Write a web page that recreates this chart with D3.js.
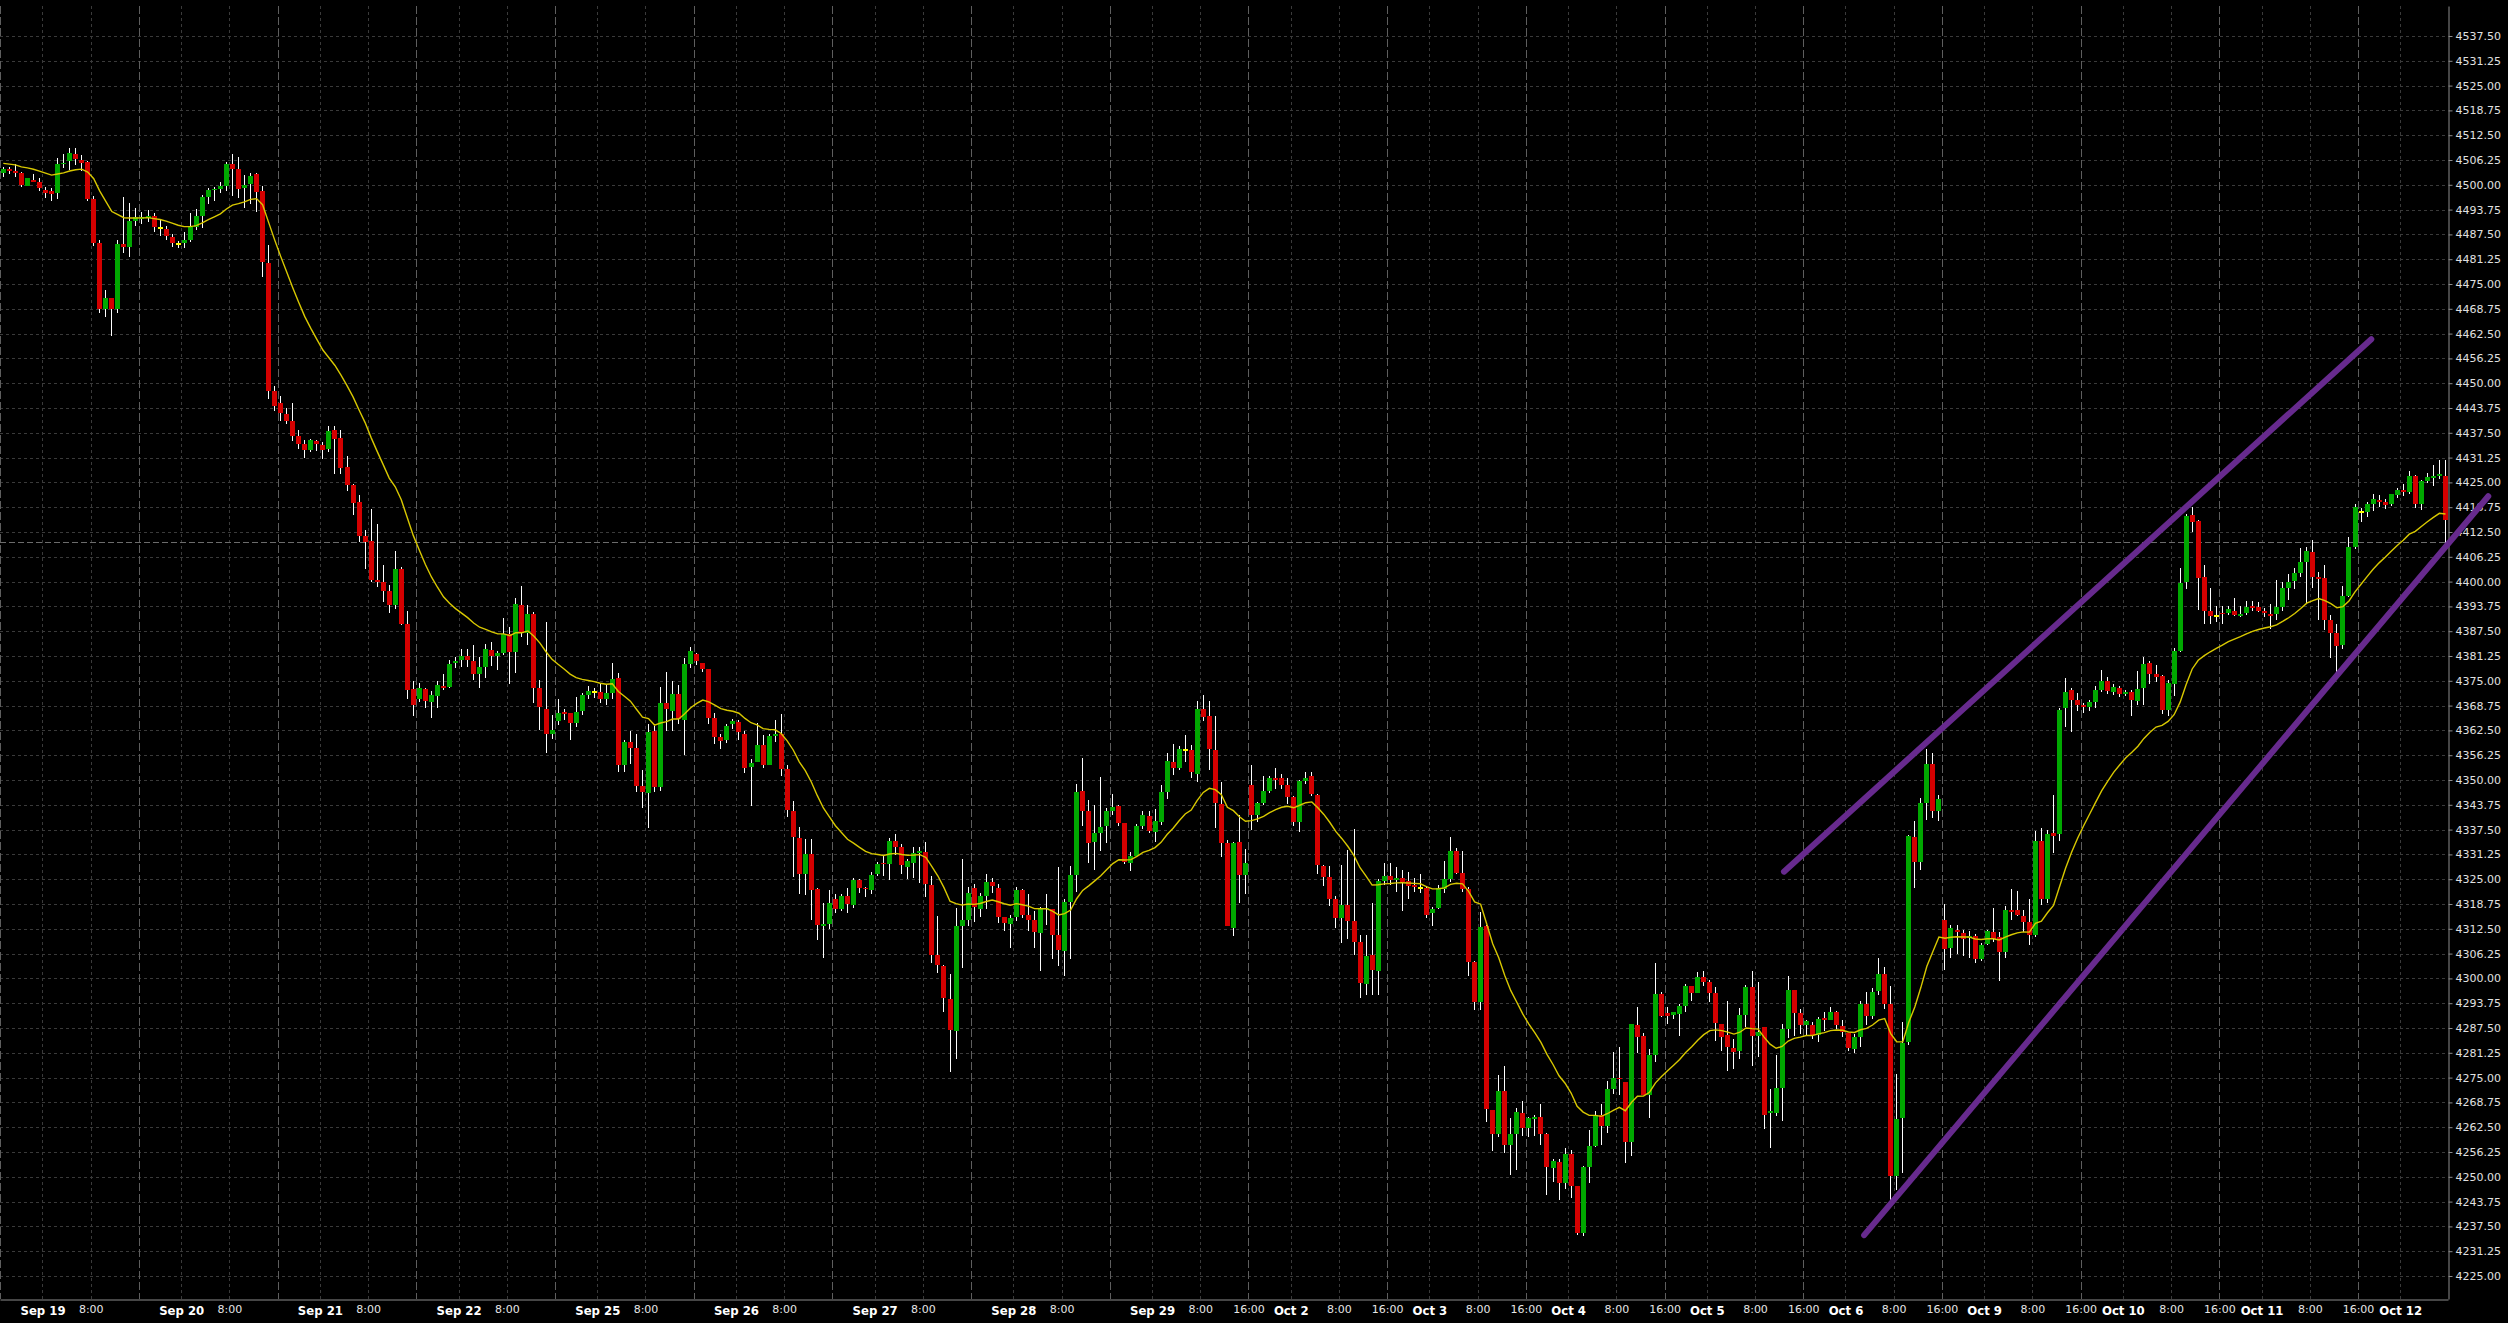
<!DOCTYPE html>
<html><head><meta charset="utf-8">
<script src="https://cdn.jsdelivr.net/npm/d3@7"></script>
<style>html,body{margin:0;padding:0;background:#000;overflow:hidden}</style>
</head><body>
<svg id="c" width="2508" height="1323"></svg>
<script>
// ---------- DATA (hourly bars) ----------
const dayLabels = ["Sep 19","Sep 20","Sep 21","Sep 22","Sep 25","Sep 26","Sep 27","Sep 28","Sep 29",
  "Oct 2","Oct 3","Oct 4","Oct 5","Oct 6","Oct 9","Oct 10","Oct 11","Oct 12"];
const firstBarHour = 16;      // first visible bar = previous day 16:00
const barsPerDay = 23;        // hours 0..22
const sixteenLabelFrom = "Sep 29";

const opens = [
4503,4504,4503.5,4503,4499.8,4501.3,4500.7,4498.8,4498.4,4498,
4505.2,4505.9,4507.8,4506.3,4505.8,4496.3,4485.4,4468.7,4471.4,4468.8,
4485,4484.2,4491,4491.3,4491.7,4492.2,4489,4488.9,4486.9,4485,
4485.3,4486.1,4489.3,4492.2,4497,4498.6,4498.9,4499.7,4505.3,4504.1,
4499.1,4500.1,4502.6,4498.5,4480.4,4448,4445,4442.2,4440.4,4436.7,
4434.7,4433.1,4435.4,4434.5,4433.5,4438.2,4436.1,4428.8,4424.3,4420,
4411.6,4410.3,4400.3,4399.8,4397.7,4394.1,4403.3,4389.4,4373,4370.3,
4373,4369.7,4371.2,4373.8,4373.5,4379.4,4380.2,4381.3,4380.1,4376.6,
4378.5,4382.7,4381.3,4381.9,4386.9,4382.2,4394.1,4387,4391.8,4373.3,
4368,4361.5,4364.9,4367.2,4366.9,4364.4,4367.4,4371.4,4372.2,4372.2,
4370.3,4371.8,4375.6,4353.9,4359.6,4358.1,4348.6,4346.7,4362.4,4348.2,
4369.4,4367.5,4371.7,4365.2,4379.3,4381.8,4379.5,4377.9,4365.5,4360.8,
4360.2,4364.1,4364.6,4361.6,4353.2,4354.6,4358.7,4353.8,4361.1,4361.5,
4352.8,4342.3,4335.5,4326.2,4331.3,4322.5,4313.2,4313.6,4319.9,4317.6,
4320.8,4318.4,4324.8,4322.9,4322.2,4326.2,4329.2,4328.8,4334.7,4333.1,
4328.2,4329.2,4331.5,4331.9,4323.6,4306,4303.2,4294.8,4286.8,4313.2,
4314.7,4322.9,4317.6,4320.8,4324.2,4322.9,4315.4,4313.7,4315.4,4322.4,
4316,4314.6,4311.4,4317.5,4317.5,4310.9,4306.9,4319.3,4326.1,4347.2,
4342.2,4334.3,4336.6,4338.3,4342.2,4343.5,4339.1,4329.1,4330.9,4338.4,
4340.9,4337,4339.4,4347,4354.6,4352.9,4357.6,4357.5,4351.6,4367.9,
4366.1,4357.5,4344,4334.1,4312.8,4334.4,4326.1,4348.7,4341.1,4344.3,
4347.2,4350.5,4350.5,4348.7,4345.7,4339.4,4349.7,4351,4346.3,4328.4,
4325.6,4319.9,4315.1,4318.4,4314.5,4309.2,4298.6,4305.8,4301.8,4324.6,
4325.8,4324.9,4325.2,4324.6,4323.5,4322.9,4322.9,4316.4,4317.8,4322.5,
4325,4332,4326.5,4322.5,4304.1,4294.1,4313.2,4266.8,4260.9,4271.6,
4258.1,4260.9,4266.1,4262.4,4264.6,4265.1,4260.9,4252.2,4253.7,4248.4,
4255.8,4247.6,4235.8,4252.5,4257.7,4265.5,4262.7,4272.2,4275,4273.9,
4258.7,4288.3,4285.6,4270.6,4280.8,4296.1,4291.3,4290.8,4291,4293,
4298,4296.4,4300.3,4299.2,4296.4,4288.4,4285.8,4282.5,4281.6,4290.9,
4297.8,4285.6,4287.7,4266.1,4266.2,4272.5,4287.3,4297.1,4291.3,4288.3,
4288.3,4285.8,4290.1,4289.6,4291.6,4288.1,4286.2,4282.2,4285.2,4293.6,
4290.5,4296.7,4301.2,4293.6,4250.1,4264.7,4283.9,4335.6,4329.4,4344.2,
4354.1,4342.1,4314.7,4307.6,4312.3,4311.5,4310.2,4310.7,4304.9,4308.7,
4311.7,4310.4,4306.7,4317.2,4317.2,4315.8,4314.1,4310.9,4334.7,4320,
4336.7,4336.3,4368.1,4372.7,4370.1,4368.8,4368.4,4369.6,4372.7,4374.9,
4372.2,4373.2,4371.6,4372.3,4369.9,4373.1,4379.4,4376.8,4376.2,4367.7,
4374.2,4382.5,4400,4416.8,4415.3,4401.1,4392.6,4391.3,4392.2,4392,
4392.7,4391.4,4392,4393.8,4393.6,4392.6,4391.9,4391.8,4393.6,4398.3,
4400.1,4402.2,4404.9,4407.5,4401.1,4401,4390.3,4387,4384,4396.4,
4408.8,4417.6,4417.6,4419.6,4420.5,4420.1,4419.5,4421.8,4423.1,4422.7,
4426.7,4419.6,4425.4,4426.1,4426.7,4426.7];

const highs = [
4504.6,4504.5,4505.2,4503.2,4501.7,4502.7,4501.6,4499.5,4499.1,4506.7,
4507.7,4509.2,4509.4,4507.5,4505.9,4497.3,4486,4473.4,4471.5,4486,
4496.9,4495.4,4494.1,4493.1,4493.7,4492.8,4491.2,4489.7,4487.5,4485.9,
4488.1,4492.8,4493.9,4497.4,4499.3,4499.5,4500.8,4505.8,4507.7,4507.1,
4502.5,4502.9,4502.9,4499.8,4484.9,4449.4,4446.9,4443.7,4445,4438.3,
4435.8,4436,4435.8,4435.1,4439.2,4439.2,4438.3,4431.6,4424.5,4421.9,
4413.1,4418.4,4414.6,4404.2,4399.2,4407.6,4403.8,4392.6,4374.9,4374.4,
4373.2,4372.4,4374.9,4376.7,4380.2,4381.1,4382.9,4382.9,4384,4381.1,
4384.2,4384.8,4382.5,4390.8,4388.6,4395.8,4399,4394.1,4392.4,4375.2,
4389.9,4366.3,4370.5,4368,4367,4370.9,4372,4373.7,4373.3,4374.3,
4374.3,4379.4,4376.9,4360.2,4362.4,4361.5,4352.4,4364.2,4363.6,4373.5,
4377.3,4374.9,4373.9,4380.7,4383.6,4381.9,4379.6,4378,4366.9,4361.7,
4364.2,4365.3,4365,4362.3,4355.4,4364.4,4361.3,4361.7,4365.1,4366.7,
4353.7,4344.8,4338.1,4335.1,4335.1,4322.7,4319.1,4322.2,4321.2,4321.2,
4322.9,4325.4,4325,4323,4326.7,4329.4,4330.9,4335.5,4336.4,4333.8,
4330.1,4333.1,4333,4334.4,4325.9,4315.7,4303.5,4301.2,4317.8,4330.1,
4323.1,4323.8,4321.5,4326.3,4325.2,4323.8,4315.5,4315.9,4323,4322.5,
4321.3,4317.1,4318.1,4321.3,4317.6,4328,4320,4328.4,4349.1,4355.6,
4344.9,4343.6,4350.8,4343,4346.4,4343.8,4339.2,4331.8,4339,4342.1,
4342.1,4342.8,4348.8,4356.9,4359,4358.6,4361.3,4358.8,4369.8,4371.3,
4369.9,4366.2,4349.5,4334.8,4334.4,4341.1,4332.7,4353.7,4344.5,4351.1,
4351.1,4353,4351.6,4350.5,4345.9,4350,4352,4352,4346.5,4328.5,
4328.4,4320.8,4328.6,4332.4,4337.7,4311,4310.9,4318.9,4325,4329.2,
4329,4328.1,4327.3,4326.9,4325.2,4326.2,4323.3,4318,4323.5,4329.6,
4335.7,4332.8,4332,4323.1,4304.3,4316.8,4313.4,4266.9,4275.6,4278,
4264.9,4267.4,4269.1,4265,4265.7,4268.3,4261,4254.5,4254.5,4257.3,
4256.7,4247.7,4252.8,4261.9,4266.6,4268.3,4274.2,4281.5,4282.6,4274,
4288.6,4292.7,4286.2,4282.2,4303.9,4296.5,4292.7,4291.6,4293.6,4298.6,
4298.2,4301.6,4301.8,4299.5,4297.8,4288.5,4294.4,4284.7,4292.5,4298.4,
4301.8,4299.2,4287.8,4272.2,4280.7,4288.5,4300.5,4297.2,4292.3,4289.4,
4289.1,4290.2,4291.5,4292.7,4291.9,4289.4,4286.3,4286,4294.4,4296.5,
4297.5,4305.1,4302.9,4298.2,4275.9,4289.1,4336.2,4339.7,4345.5,4357.7,
4356.8,4346.3,4318.7,4313.5,4313.5,4312.2,4312,4311.3,4308.9,4312.3,
4317.8,4311.7,4318.3,4322.6,4322.1,4317.2,4320,4337.1,4338,4337.3,
4346.2,4368.1,4375.7,4373.3,4372,4369.3,4370.1,4373.8,4377.7,4376,
4374.2,4373.6,4372.7,4372.7,4377.4,4380.9,4379.9,4379,4376.4,4375.1,
4383.3,4403.5,4417,4418.8,4415.5,4404.2,4398.3,4393.8,4393.8,4393.9,
4395.8,4393.8,4395,4395,4394.8,4393.3,4394.4,4400.3,4400,4402,
4403.5,4408.5,4408.7,4410.4,4402.3,4404.3,4391.6,4389.4,4399,4411.3,
4419.6,4418.5,4420,4422.2,4421.7,4420.7,4422.2,4423.7,4424.6,4427.8,
4426.9,4425.7,4427.4,4429.5,4430.6,4430.6];

const lows = [
4501.9,4502.6,4501.9,4499.5,4499.6,4500.7,4498.4,4496.6,4496,4496.3,
4504.3,4503.7,4505.1,4503.5,4495.8,4484.7,4467.8,4466.8,4462,4467.6,
4482.7,4481.9,4489.7,4490,4490.7,4488.2,4487,4486,4484.3,4484,
4484,4485.7,4488.5,4489,4495.1,4495.8,4498,4498.4,4497.2,4496.6,
4494.1,4495.1,4493.2,4476.7,4445.9,4442.9,4440.4,4439.6,4435.4,4433.3,
4431.2,4432.7,4432.9,4430.9,4432.7,4427,4427,4422.8,4416.9,4410,
4403.2,4400,4398.6,4394.8,4392.2,4393.1,4389.1,4370.5,4366.2,4369.7,
4368.2,4365.7,4368.2,4372.6,4373.1,4378.3,4378.5,4378.5,4375.2,4373.1,
4375.6,4378.8,4377.7,4381.5,4374.1,4376.9,4386.1,4384,4369.3,4362.5,
4356.9,4360.4,4363.8,4365.1,4360.2,4363.4,4366.5,4370.5,4370.7,4369.4,
4368.9,4370.5,4352,4352,4354.1,4347.1,4342.9,4337.9,4347.1,4347.2,
4362.4,4362.4,4364.2,4356.2,4378.1,4379.1,4377.3,4364,4359.1,4357.7,
4359.4,4362.8,4360.2,4351.7,4343.5,4354.5,4353,4353.7,4359.6,4351.1,
4340.6,4325.6,4321.2,4321,4314.7,4309.6,4305.1,4312.5,4316.4,4317,
4316.6,4317.8,4321.6,4320.6,4321.2,4325.8,4325.8,4324.9,4331,4326.2,
4325,4325.4,4324.1,4320.6,4303.9,4301.4,4291.6,4276.5,4279.8,4302.6,
4313.2,4314.1,4315.4,4317.6,4321.5,4313.9,4312,4307.6,4314.5,4315.1,
4312,4307.6,4301.9,4313.4,4304.8,4303,4300.6,4305,4321.7,4338.3,
4329,4327.2,4332.2,4334.2,4341.1,4338.4,4328.8,4327,4330.5,4337.7,
4336.7,4334.4,4338.7,4345.3,4351.2,4352.5,4354.6,4350.5,4349.4,4364.9,
4352.5,4337.9,4330.5,4313.1,4310.7,4319,4321.3,4337.5,4339.4,4343.6,
4346.6,4347.7,4347.7,4344,4338.4,4336.9,4349,4345.9,4326.2,4323.4,
4318.3,4312.8,4308.9,4309.9,4305.8,4295.1,4295.9,4295.9,4295.7,4323.5,
4323.5,4321.8,4316.9,4320.1,4321.8,4321.4,4315.2,4313.2,4317.6,4321.6,
4324.3,4326.2,4321.8,4300.7,4292,4292,4263.8,4256.5,4260.1,4256,
4250.5,4251.6,4260.2,4260.1,4260.2,4257.9,4245.5,4248.6,4244.2,4246.8,
4244.6,4235.4,4235,4248.4,4257.6,4257.9,4261.1,4270.8,4270.5,4253.5,
4255.2,4281.2,4270.5,4264.7,4279,4290.2,4288.5,4289.8,4285.4,4291.5,
4294.4,4296.3,4298,4294,4284.3,4281.8,4276.7,4277.1,4279.7,4287.8,
4277.8,4280.1,4262,4257.3,4265.3,4264,4284.9,4285.6,4286,4285.6,
4284.7,4283.9,4286.8,4289.4,4287.3,4285.2,4281.8,4281.2,4282.8,4288.3,
4289.8,4295.9,4292.3,4243.4,4246.7,4251,4283.2,4322.7,4327.3,4340,
4340.4,4339.6,4302,4305.2,4306.1,4305.6,4305.2,4303.9,4304.5,4308.3,
4309.1,4299.3,4305.2,4314.8,4315.6,4311.7,4308.5,4310.4,4318.4,4319.1,
4331.7,4334.7,4363.4,4362.1,4367.3,4366.8,4367.5,4368.1,4372.2,4371.6,
4371.4,4371,4371.2,4366.2,4368.8,4368.8,4374.2,4374.7,4366.6,4366.2,
4371.2,4382.3,4398.1,4412.4,4392.9,4389.2,4389.4,4389.8,4389.4,4391.6,
4391.3,4391.1,4391.6,4392.5,4392.3,4391.1,4388.1,4390.3,4392.5,4395.3,
4398.1,4401.1,4394.6,4398.3,4390.3,4387.8,4380.7,4377.1,4382.9,4396.2,
4408.1,4415,4416.2,4417.9,4418.9,4418.2,4419.1,4421,4421.5,4422,
4418.5,4418.1,4424.8,4424,4425.9,4409.8];

const closes = [
4504.1,4503.5,4503,4500,4501.6,4500.8,4499.1,4498,4497.8,4505.3,
4505.6,4508.1,4506.6,4505.6,4496.3,4485.4,4468.7,4471.4,4468.8,4485,
4484.4,4491,4491.8,4491.8,4492.2,4489.3,4489,4487.1,4485.3,4485,
4486.1,4489.3,4492.2,4497,4498.8,4499,4499.8,4505.3,4504.1,4498.9,
4500,4502.3,4498.3,4480.5,4448.1,4444.2,4442.5,4440.4,4436.7,4434.7,
4433.1,4435.6,4434.6,4433.1,4437.9,4436,4428.7,4424.3,4419.8,4411.6,
4410.1,4400.3,4399.9,4397.7,4394,4403.1,4389.4,4372.8,4369,4373.1,
4369.9,4371.5,4373.9,4373.3,4379.3,4380.1,4381.3,4380.2,4376.6,4378.5,
4383,4381.3,4381.9,4386.7,4382.2,4394.4,4387,4391.8,4373.3,4368.3,
4361.5,4362.7,4366.9,4366.7,4364.4,4367.2,4371.4,4372.4,4372.2,4370.3,
4371.8,4375.4,4353.9,4359.6,4358.1,4348.6,4346.9,4362.1,4348.2,4369.4,
4367.8,4371.7,4365.3,4379.3,4382.6,4380,4378,4365.5,4360.8,4359.9,
4363.5,4364.9,4362.1,4353.1,4354.2,4358.9,4353.8,4361,4361.6,4352.8,
4342.4,4335.6,4326.2,4331.3,4322.2,4313.4,4313.6,4319.1,4317.4,4320.8,
4318.7,4324.8,4322.9,4322.5,4326.1,4328.9,4328.8,4334.7,4333,4328.5,
4329.5,4331.5,4332.1,4323.7,4306,4303.5,4295.1,4287,4313.2,4314.7,
4321.4,4317.9,4320.8,4324.2,4323.2,4315.4,4313.9,4315.1,4322.4,4316,
4314.8,4311.6,4317.5,4317.7,4310.9,4307.1,4319.2,4326.1,4347,4342.2,
4334.1,4336.6,4338.1,4342.2,4343.2,4339.1,4329.3,4330.8,4338.4,4341.3,
4337.1,4339.6,4347,4354.8,4352.9,4357.8,4357.6,4351.9,4367.9,4366,
4357.7,4344.3,4334.1,4313.2,4334.1,4326.1,4329,4341.1,4344.3,4347.2,
4350.5,4349.9,4348.7,4345.7,4339.4,4349.7,4350.4,4346.4,4328.7,4325.6,
4319.9,4315.1,4318.4,4314.5,4309.2,4298.8,4305.6,4302.2,4324.5,4325.9,
4324.9,4325.4,4324.4,4323.4,4323.1,4322.9,4316.1,4317.4,4322.7,4325,
4332.2,4326.5,4322.5,4304.1,4294.1,4313,4267,4260.9,4271.6,4258.1,
4260.7,4266.3,4262.4,4264.9,4265.1,4260.9,4252.5,4253.9,4248.4,4255.8,
4247.7,4235.8,4252.5,4257.7,4265.5,4262.8,4272.2,4274.8,4274.6,4258.7,
4288.5,4285.2,4270.6,4280.7,4296.1,4290.5,4290.5,4291.5,4293,4298.2,
4296.4,4300.3,4299.1,4296.4,4288.8,4285.2,4282.6,4281.4,4290.9,4297.8,
4285.6,4286.6,4265.7,4266.5,4272.5,4287.3,4297.1,4291.3,4288.3,4289.3,
4285.7,4289.8,4289.5,4291.6,4288.3,4286.4,4282.4,4285.2,4293.6,4290.5,
4296.5,4301.2,4293.6,4250.1,4264.5,4283.7,4335.8,4329.4,4344.2,4354.1,
4342.1,4345.2,4307.3,4312.6,4311.7,4310,4310.6,4304.8,4308.5,4312,
4310,4306.7,4317.2,4316.7,4316.1,4314.1,4310.9,4334.7,4320,4336.5,
4336,4367.7,4372.3,4370.1,4368.8,4368.4,4369.6,4372.7,4374.9,4372.5,
4373.5,4371.6,4372.3,4370.1,4372.9,4379.2,4376.6,4375.9,4367.7,4374.4,
4382.5,4399.7,4416.5,4415,4401,4392.6,4391.4,4391.3,4391.8,4393.1,
4391.6,4391.9,4393.6,4393.3,4392.6,4392,4391.4,4393.5,4398.3,4399.8,
4402.2,4404.9,4407.6,4401.1,4400.7,4390.3,4387.1,4383.8,4396.4,4408.7,
4418.9,4417.6,4419.5,4420.8,4420.1,4419.4,4422,4423.1,4422.7,4426.7,
4419.5,4425.4,4426.4,4426.6,4427,4415.6];

const emaPeriod = 20;
const emaSeed = 4505.4;          // MA value at the first visible bar
const priceLine = 4410.0;        // dashed horizontal price line
const yTicks = d3.range(4225, 4537.5 + 0.001, 6.25);
// trend channel (bar index, price)
const upperTrendBars = [295.3, 392.7], upperTrendPrices = [4326.9, 4461.1];
const lowerTrendBars = [308.6, 412.1], lowerTrendPrices = [4235.3, 4421.5];

// ---------- LAYOUT ----------
const W = 2508, H = 1323;
const P = {left: 0, right: 2448, top: 6, bottom: 1299};
const svg = d3.select('#c');
svg.append('rect').attr('width', W).attr('height', H).attr('fill', '#000');

const n = closes.length;
const slot = 6.03, firstX = 3.3;
const x = d3.scaleLinear()
  .domain([(P.left - firstX) / slot, (P.right - firstX) / slot])
  .range([P.left, P.right]);
const pxPerPt = 1240 / 312.5;
const y = d3.scaleLinear()
  .domain([4225 - (P.bottom - 1276) / pxPerPt, 4537.5 + (36 - P.top) / pxPerPt])
  .range([P.bottom, P.top]);

const barTime = i => { const k = i + firstBarHour; return {day: Math.floor(k / barsPerDay) - 1, hour: k % barsPerDay}; };

svg.append('defs').append('clipPath').attr('id', 'plotclip')
  .append('rect').attr('x', P.left).attr('y', P.top).attr('width', P.right - P.left).attr('height', P.bottom - P.top);

// ---------- GRID ----------
const grid = svg.append('g').attr('shape-rendering', 'crispEdges');
grid.selectAll('line.h').data(yTicks).join('line')
  .attr('x1', P.left).attr('x2', P.right)
  .attr('y1', d => Math.round(y(d)) + 0.5).attr('y2', d => Math.round(y(d)) + 0.5)
  .attr('stroke', '#3a3a3a').attr('stroke-dasharray', '3,3');

const tickBars = d3.range(n).filter(i => [0, 8, 16].includes(barTime(i).hour));
grid.selectAll('line.v').data(tickBars).join('line')
  .attr('x1', i => Math.round(x(i - 0.5)) + 0.5).attr('x2', i => Math.round(x(i - 0.5)) + 0.5)
  .attr('y1', P.top).attr('y2', P.bottom)
  .attr('stroke', i => barTime(i).hour === 16 ? '#5e5e5e' : '#3a3a3a')
  .attr('stroke-dasharray', i => barTime(i).hour === 16 ? '8,3' : '3,3');

// price line
grid.append('line')
  .attr('x1', P.left).attr('x2', P.right)
  .attr('y1', Math.round(y(priceLine)) + 0.5).attr('y2', Math.round(y(priceLine)) + 0.5)
  .attr('stroke', '#6c6c6c').attr('stroke-dasharray', '6,3');

// ---------- CANDLES ----------
const plot = svg.append('g').attr('clip-path', 'url(#plotclip)');
const candles = d3.range(n).map(i => ({i, o: opens[i], h: highs[i], l: lows[i], c: closes[i]}));
const cg = plot.append('g').attr('shape-rendering', 'crispEdges');
cg.selectAll('line.wick').data(candles).join('line')
  .attr('x1', d => Math.floor(x(d.i)) + 0.5).attr('x2', d => Math.floor(x(d.i)) + 0.5)
  .attr('y1', d => y(Math.max(d.h, d.o, d.c))).attr('y2', d => y(Math.min(d.l, d.o, d.c)))
  .attr('stroke', '#ffffff').attr('stroke-width', 1);
cg.selectAll('rect.body').data(candles).join('rect')
  .attr('x', d => Math.floor(x(d.i)) - 2)
  .attr('width', 5)
  .attr('y', d => d.o === d.c ? Math.round(y(d.o)) - 1 : y(Math.max(d.o, d.c)))
  .attr('height', d => d.o === d.c ? 2 : Math.max(1, Math.abs(y(d.o) - y(d.c))))
  .attr('fill', d => d.o === d.c ? '#ffff00' : (d.c > d.o ? '#00a800' : '#d40000'));

// ---------- EMA ----------
const alpha = 2 / (emaPeriod + 1);
const ema = [];
closes.forEach((c, i) => { ema.push(i === 0 ? emaSeed : ema[i - 1] + alpha * (c - ema[i - 1])); });
plot.append('path').datum(ema)
  .attr('d', d3.line().x((v, i) => x(i)).y(v => y(v)))
  .attr('fill', 'none').attr('stroke', '#d8c800').attr('stroke-width', 1.4);

// ---------- AXES ----------
const yAxis = d3.axisRight(y).tickValues(yTicks).tickFormat(d3.format('.2f'))
  .tickSize(4).tickSizeOuter(0).tickPadding(3);
const ya = svg.append('g').attr('transform', `translate(${P.right + 0.5},0)`).call(yAxis);
ya.select('.domain').attr('stroke', '#8c8c8c');
ya.selectAll('.tick line').attr('stroke', '#8c8c8c');
ya.selectAll('.tick text').attr('fill', '#e0e0e0')
  .style('font-family', '"DejaVu Sans", Verdana, sans-serif').style('font-size', '11px');

const labelFor = i => {
  const t = barTime(i);
  if (t.hour === 0) return dayLabels[t.day] || '';
  if (t.hour === 8) return '8:00';
  if (t.hour === 16 && t.day >= dayLabels.indexOf(sixteenLabelFrom)) return '16:00';
  return '';
};
const xAxis = d3.axisBottom(x).tickValues(tickBars.map(i => i - 0.5))
  .tickFormat(v => labelFor(Math.round(v + 0.5))).tickSize(0).tickSizeOuter(0).tickPadding(6);
const xa = svg.append('g').attr('transform', `translate(0,${P.bottom + 0.5})`).call(xAxis);
xa.select('.domain').attr('stroke', '#8c8c8c');
xa.selectAll('.tick text').each(function(v) {
  const i = Math.round(v + 0.5);
  const isDay = barTime(i).hour === 0;
  d3.select(this).attr('fill', isDay ? '#ffffff' : '#e6e6e6')
    .style('font-family', isDay ? '"DejaVu Sans Condensed", "Liberation Sans Narrow", "DejaVu Sans", sans-serif' : '"DejaVu Sans", sans-serif')
    .style('font-stretch', isDay ? 'condensed' : 'normal')
    .style('font-weight', isDay ? 'bold' : 'normal')
    .style('font-size', isDay ? '13px' : '11px');
});

// ---------- TREND CHANNEL ----------
const trend = svg.append('g');
[[upperTrendBars, upperTrendPrices], [lowerTrendBars, lowerTrendPrices]].forEach(([b, p]) => {
  trend.append('line')
    .attr('x1', x(b[0])).attr('y1', y(p[0])).attr('x2', x(b[1])).attr('y2', y(p[1]))
    .attr('stroke', '#672a8e').attr('stroke-width', 6).attr('stroke-linecap', 'round');
});
</script>
</body></html>
